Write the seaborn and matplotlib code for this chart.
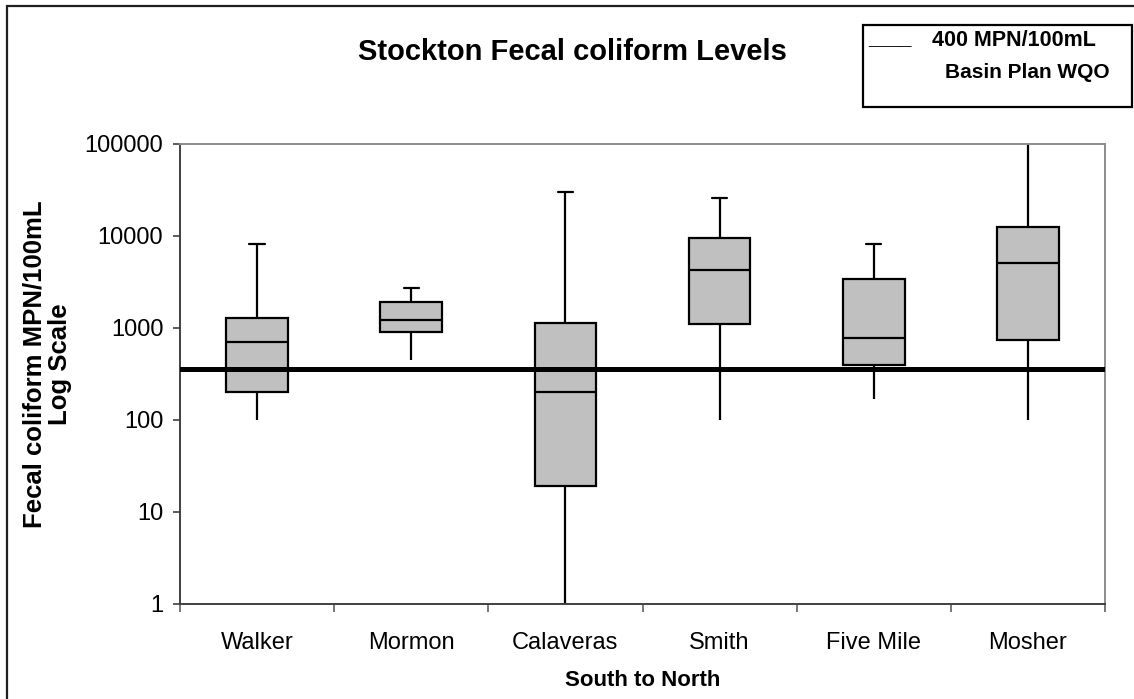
import numpy as np
import pandas as pd
import seaborn as sns
import matplotlib.pyplot as plt
from matplotlib.patches import Rectangle
from matplotlib.ticker import FixedLocator, FuncFormatter, NullFormatter

# Five-number summaries (MPN/100mL), south to north
sites = ['Walker', 'Mormon', 'Calaveras', 'Smith', 'Five Mile', 'Mosher']
lows = [100, 450, 1, 100, 170, 100]
q1s = [200, 900, 19, 1100, 400, 740]
medians = [700, 1210, 200, 4250, 770, 5100]
q3s = [1290, 1900, 1140, 9400, 3450, 12600]
highs = [8100, 2700, 30000, 25700, 8100, 110000]

wqo_value = 355  # drawn position of the 400 MPN/100mL objective line
y_ticks = [1, 10, 100, 1000, 10000, 100000]

# long format, 5 points per site -> quartiles fall exactly on the points
vals = np.column_stack([lows, q1s, medians, q3s, highs]).ravel()
df = pd.DataFrame({'site': np.repeat(sites, 5), 'value': vals})

sns.set_style('white')
plt.rcParams['font.family'] = ['Liberation Sans', 'DejaVu Sans']
plt.rcParams['text.color'] = 'black'
plt.rcParams['axes.labelcolor'] = 'black'

fig = plt.figure(figsize=(11.34, 6.99), dpi=100)
ax = fig.add_axes([180 / 1134, 1 - 604 / 699, (1105 - 180) / 1134, (604 - 144) / 699])

sns.boxplot(data=df, x='site', y='value', order=sites, whis=(0, 100),
            width=0.4, color='#C0C0C0', saturation=1, linecolor='black',
            linewidth=1.6, showfliers=False, ax=ax, capwidths=0.1)
ax.set_yscale('log')
ax.set_ylim(1, 100000)
ax.set_xlim(-0.5, len(sites) - 0.5)

# no caps on the lower whiskers
for ln in ax.lines:
    x, y = np.asarray(ln.get_xdata(), float), np.asarray(ln.get_ydata(), float)
    if len(y) == 2 and y[0] == y[1]:
        i = int(round(x.mean()))
        if 0 <= i < len(sites) and np.isclose(y[0], lows[i]):
            ln.set_visible(False)

ax.axhline(wqo_value, color='black', linewidth=3.6, zorder=5)

# axes styling
for side in ['left', 'bottom']:
    ax.spines[side].set_color('#404040')
    ax.spines[side].set_linewidth(1.4)
for side in ['top', 'right']:
    ax.spines[side].set_color('#8c8c8c')
    ax.spines[side].set_linewidth(1.4)

ax.yaxis.set_major_locator(FixedLocator(y_ticks))
ax.yaxis.set_major_formatter(FuncFormatter(lambda v, p: f'{int(round(v))}'))
ax.yaxis.set_minor_formatter(NullFormatter())
ax.yaxis.set_minor_locator(FixedLocator([]))
ax.tick_params(axis='y', which='major', left=True, direction='out', length=5,
               width=1.2, color='#404040', pad=7, labelsize=17, labelcolor='black')

ax.set_xticks(range(len(sites)))
ax.set_xticklabels(sites)
ax.xaxis.set_minor_locator(FixedLocator(np.arange(-0.5, len(sites), 1.0)))
ax.tick_params(axis='x', which='major', bottom=True, length=0, pad=20,
               labelsize=17, labelcolor='black')
ax.tick_params(axis='x', which='minor', bottom=True, direction='out', length=6,
               width=1.2, color='#606060')

ax.set_xlabel('South to North', fontsize=16, fontweight='bold', labelpad=12)
ax.set_ylabel('')

fig.text(47 / 1134, 1 - 364 / 699, 'Fecal coliform MPN/100mL\nLog Scale',
         rotation=90, ha='center', va='center', multialignment='center',
         fontsize=18.5, fontweight='bold', linespacing=1.1)
fig.text(572 / 1134, 1 - 52 / 699, 'Stockton Fecal coliform Levels',
         ha='center', va='center', fontsize=21, fontweight='bold')

# legend box for the objective line
fig.patches.append(Rectangle((863 / 1134, 1 - 107 / 699), (1132 - 863) / 1134, 82 / 699,
                             transform=fig.transFigure, fill=False,
                             edgecolor='black', linewidth=1.6))
fig.text(868 / 1134, 1 - 41 / 699, '____', ha='left', va='center',
         fontsize=14, fontweight='bold')
fig.text(932 / 1134, 1 - 41 / 699, '400 MPN/100mL', ha='left', va='center',
         fontsize=15.5, fontweight='bold')
fig.text(945 / 1134, 1 - 72 / 699, 'Basin Plan WQO', ha='left', va='center',
         fontsize=15, fontweight='bold')

# outer chart frame
fig.patches.append(Rectangle((7 / 1134, -0.05), 1.2, 1 - 6 / 699 + 0.05,
                             transform=fig.transFigure, fill=False,
                             edgecolor='#202020', linewidth=1.6))

fig.savefig('out.png', dpi=100)
